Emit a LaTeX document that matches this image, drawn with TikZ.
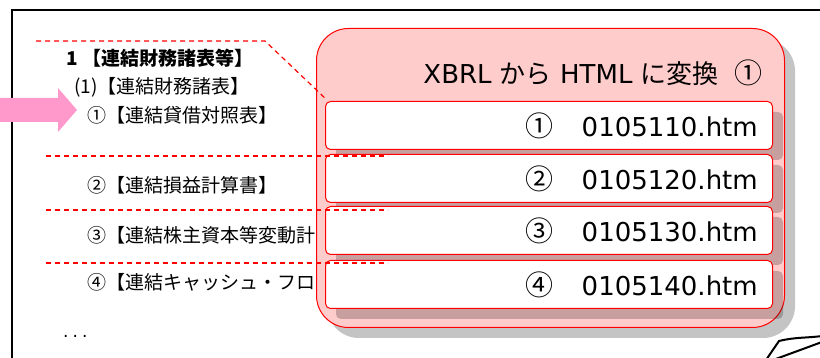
\documentclass[tikz,border=0pt]{standalone}
\usepackage{fontspec}
\setmainfont{DejaVu Sans}
\newfontfamily\cjk{Noto Sans CJK JP}
\definecolor{arrowpink}{HTML}{FF99CC}
\definecolor{boxpink}{HTML}{FFCCCC}
\definecolor{shadowgray}{HTML}{C4C4C4}
\tikzset{
  lefttext/.style={anchor=west, inner sep=0pt, font=\cjk\fontsize{19}{22}\selectfont},
  cutline/.style={draw=red, dashed, dash pattern=on 5pt off 4pt, line width=1.2pt},
  bigbox/.style={draw=red, fill=boxpink, line width=1pt, rounded corners=32pt},
  bigshadow/.style={fill=shadowgray, rounded corners=32pt},
  filebox/.style={draw=red, fill=white, line width=1pt, rounded corners=5pt},
  fileshadow/.style={fill=black, fill opacity=0.22, rounded corners=5pt},
  filetext/.style={anchor=east, inner sep=0pt, font=\fontsize{26}{30}\selectfont},
}
\begin{document}
\begin{tikzpicture}[x=1pt,y=-1pt]
\useasboundingbox (0,0) rectangle (820,358);
\fill[white] (0,0) rectangle (820,358);
% outer frame
\draw[line width=2pt] (12,360) -- (12,10) -- (822,10);
% left texts
\node[lefttext, font=\cjk\bfseries\fontsize{19}{22}\selectfont] (t1) at (66,58) {1 【連結財務諸表等】};
\node[lefttext] (t2) at (74,87) {(1)【連結財務諸表】};
\node[lefttext] (t3) at (87,115) {①【連結貸借対照表】};
\node[lefttext] (t4) at (87,185) {②【連結損益計算書】};
\node[lefttext] (t5) at (87,235) {③【連結株主資本等変動計};
\node[lefttext] (t6) at (87,282) {④【連結キャッシュ・フロ};
\node[anchor=west, inner sep=0pt, font=\fontsize{17}{20}\selectfont] (dots) at (63,336) {.\hspace{4pt}.\hspace{4pt}.};
% big box with shadow
\fill[bigshadow] (327,39) rectangle (795,338);
\node[bigbox, minimum width=468pt, minimum height=299pt, anchor=north west] (big) at (316,28) {};
\node[anchor=east, inner sep=0pt, font=\fontsize{26}{30}\selectfont] (title) at (763,73)
  {XBRL {\cjk から} HTML {\cjk に変換}\hspace{16pt}{\cjk\fontsize{28}{30}\selectfont ①}};
% file boxes
\foreach \i/\top/\num/\code in {1/101/①/0105110, 2/154/②/0105120, 3/206/③/0105130, 4/260/④/0105140}{
  \fill[fileshadow] (336,\top+11) rectangle (783,\top+59);
  \node[filebox, minimum width=447pt, minimum height=48pt, anchor=north west] (f\i) at (325,\top) {};
  \node[filetext] (ft\i) at ([xshift=-15pt]f\i.east) {{\cjk\fontsize{28}{30}\selectfont \num}\hspace{28pt}\code.htm};
}
% dashed cut lines
\coordinate (c0) at (36,41);
\coordinate (c1) at (265,41);
\coordinate (c2) at (327,100);
\draw[cutline] (c0) -- (c1) -- (c2);
\foreach \y/\n in {156/a, 210/b, 263/c}{
  \coordinate (l\n) at (46,\y);
  \coordinate (r\n) at (388,\y);
  \draw[cutline] (l\n) -- (r\n);
}
% pink arrow
\fill[arrowpink] (0,98) -- (58,98) -- (58,88) -- (77,110) -- (58,132) -- (58,122) -- (0,122) -- cycle;
% corner sketch bottom right
\draw[line width=2pt, line join=round] (766,360) -- (779,341) .. controls (795,337) and (808,338) .. (822,336);
\draw[line width=2pt] (773,360) -- (822,342);
\end{tikzpicture}
\end{document}
